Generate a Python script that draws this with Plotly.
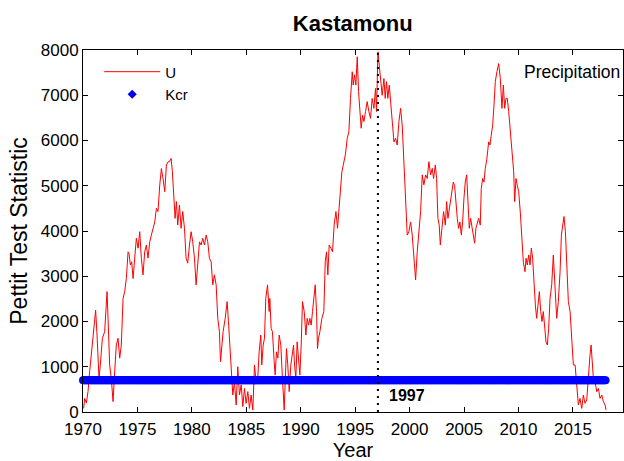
import numpy as np
import plotly.graph_objects as go

# Pettitt test statistic |U_t| for monthly precipitation at Kastamonu
years = [
    1970.06, 1970.15, 1970.31, 1970.46, 1970.61, 1970.77, 1970.92, 1971.07, 1971.16, 1971.29,
    1971.38, 1971.47, 1971.59, 1971.78, 1971.99, 1972.14, 1972.21, 1972.30, 1972.45, 1972.60,
    1972.76, 1972.91, 1973.06, 1973.22, 1973.37, 1973.52, 1973.68, 1973.83, 1973.98, 1974.14,
    1974.23, 1974.35, 1974.47, 1974.60, 1974.75, 1974.90, 1975.06, 1975.21, 1975.36, 1975.51,
    1975.67, 1975.82, 1975.97, 1976.13, 1976.28, 1976.43, 1976.59, 1976.74, 1976.89, 1977.05,
    1977.20, 1977.35, 1977.51, 1977.66, 1977.81, 1977.94, 1978.09, 1978.21, 1978.34, 1978.46,
    1978.58, 1978.70, 1978.86, 1979.01, 1979.16, 1979.32, 1979.47, 1979.62, 1979.78, 1979.93,
    1980.08, 1980.24, 1980.39, 1980.54, 1980.70, 1980.85, 1981.00, 1981.16, 1981.31, 1981.46,
    1981.61, 1981.77, 1981.92, 1982.07, 1982.23, 1982.38, 1982.53, 1982.63, 1982.75, 1982.87,
    1983.06, 1983.24, 1983.36, 1983.48, 1983.61, 1983.76, 1983.91, 1984.07, 1984.22, 1984.37,
    1984.53, 1984.68, 1984.83, 1984.98, 1985.14, 1985.29, 1985.44, 1985.60, 1985.75, 1985.90,
    1986.03, 1986.18, 1986.33, 1986.42, 1986.55, 1986.67, 1986.79, 1986.95, 1987.10, 1987.16,
    1987.28, 1987.40, 1987.56, 1987.65, 1987.77, 1987.90, 1988.02, 1988.17, 1988.32, 1988.48,
    1988.63, 1988.69, 1988.81, 1988.94, 1989.09, 1989.24, 1989.34, 1989.43, 1989.55, 1989.67,
    1989.80, 1989.92, 1990.04, 1990.16, 1990.32, 1990.47, 1990.59, 1990.71, 1990.84, 1990.96,
    1991.08, 1991.24, 1991.33, 1991.45, 1991.54, 1991.63, 1991.76, 1991.94, 1992.12, 1992.25,
    1992.37, 1992.49, 1992.61, 1992.77, 1992.92, 1993.07, 1993.23, 1993.38, 1993.53, 1993.69,
    1993.78, 1993.90, 1994.02, 1994.11, 1994.27, 1994.42, 1994.57, 1994.73, 1994.82, 1994.94,
    1995.06, 1995.19, 1995.31, 1995.43, 1995.55, 1995.68, 1995.80, 1995.95, 1996.10, 1996.26,
    1996.41, 1996.56, 1996.72, 1996.87, 1996.96, 1997.09, 1997.21, 1997.33, 1997.48, 1997.64,
    1997.76, 1997.88, 1998.00, 1998.13, 1998.25, 1998.40, 1998.56, 1998.71, 1998.86, 1999.02,
    1999.17, 1999.32, 1999.47, 1999.63, 1999.78, 1999.93, 2000.09, 2000.24, 2000.39, 2000.55,
    2000.70, 2000.85, 2001.01, 2001.16, 2001.31, 2001.47, 2001.62, 2001.77, 2001.93, 2002.08,
    2002.20, 2002.36, 2002.48, 2002.60, 2002.72, 2002.82, 2002.97, 2003.12, 2003.28, 2003.40,
    2003.52, 2003.64, 2003.77, 2003.89, 2004.01, 2004.13, 2004.26, 2004.38, 2004.50, 2004.62,
    2004.75, 2004.87, 2004.99, 2005.11, 2005.24, 2005.36, 2005.48, 2005.60, 2005.73, 2005.85,
    2005.97, 2006.09, 2006.22, 2006.34, 2006.49, 2006.58, 2006.71, 2006.83, 2006.95, 2007.10,
    2007.26, 2007.38, 2007.50, 2007.63, 2007.75, 2007.87, 2008.02, 2008.18, 2008.33, 2008.48,
    2008.61, 2008.73, 2008.85, 2008.97, 2009.10, 2009.25, 2009.40, 2009.56, 2009.65, 2009.77,
    2009.89, 2010.02, 2010.17, 2010.30, 2010.45, 2010.60, 2010.69, 2010.81, 2010.94, 2011.06,
    2011.18, 2011.30, 2011.43, 2011.55, 2011.67, 2011.79, 2011.92, 2012.04, 2012.16, 2012.28,
    2012.41, 2012.53, 2012.65, 2012.77, 2012.90, 2013.05, 2013.20, 2013.36, 2013.51, 2013.66,
    2013.82, 2013.94, 2014.06, 2014.18, 2014.31, 2014.43, 2014.58, 2014.74, 2014.89, 2015.04,
    2015.20, 2015.35, 2015.50, 2015.65, 2015.81, 2015.96, 2016.11, 2016.27, 2016.42, 2016.57,
    2016.67, 2016.76, 2016.88, 2017.03, 2017.19, 2017.34, 2017.49, 2017.65, 2017.80, 2017.95,
    2018.04,
]

u_values = [
    80, 300, 200, 450, 890, 1330, 1775, 2000, 2250, 1700,
    1190, 740, 1040, 1630, 1775, 2600, 2660, 2070, 1040, 740,
    230, 890, 1480, 1630, 1190, 1480, 2510, 2660, 2950, 3540,
    3500, 3250, 3320, 2950, 3470, 3840, 3620, 3985, 3400, 3030,
    3540, 3690, 3400, 3760, 3910, 4060, 4200, 4500, 4430, 5020,
    5380, 5160, 4870, 5460, 5530, 5530, 5605, 5310, 4650, 4280,
    4650, 4130, 4575, 4060, 4430, 4060, 3400, 3290, 3690, 3985,
    3760, 3400, 2810, 3400, 3760, 3690, 3840, 3690, 3910, 3760,
    3400, 3320, 2810, 3030, 2810, 2070, 1775, 1110, 1480, 1775,
    2070, 2440, 2000, 1480, 890, 375, 670, 155, 1000, 375,
    600, 120, 520, 190, 450, 80, 375, 45, 1040, 670,
    640, 1330, 1700, 1040, 1480, 1630, 2510, 2810, 2220, 2510,
    1850, 1775, 1110, 820, 1330, 1190, 1700, 1480, 740, 45,
    1040, 1400, 1040, 450, 1040, 1260, 1480, 1040, 740, 1550,
    1040, 820, 1480, 2440, 2220, 1700, 2070, 1920, 2070, 1920,
    2220, 2660, 2810, 2220, 1400, 1630, 1775, 2070, 2220, 3320,
    3540, 3030, 3690, 3620, 3540, 4130, 4430, 4060, 4575, 5020,
    5310, 5450, 5560, 5700, 6050, 6190, 6930, 7520, 7225, 7450,
    7225, 7850, 7080, 6640, 6270, 6560, 6420, 6640, 6860, 6640,
    6490, 6930, 6710, 7150, 6640, 7960, 7670, 7370, 7000, 7370,
    6930, 7300, 6930, 7225, 6860, 6420, 5970, 6050, 5900, 6420,
    6710, 6340, 5605, 4575, 3910, 3985, 4200, 3910, 3320, 2920,
    3540, 3910, 4430, 5240, 5020, 5240, 5160, 5530, 5240, 5385,
    5160, 5460, 5160, 4280, 4130, 3690, 4060, 4430, 4130, 4650,
    4280, 4500, 4720, 4870, 5080, 5010, 4575, 4280, 4060, 4200,
    3910, 4200, 4720, 5080, 5240, 4500, 4060, 4280, 4060, 3910,
    3730, 4060, 4200, 4280, 4130, 4940, 5160, 5080, 5380, 5605,
    5970, 5900, 6120, 6340, 6780, 7300, 7520, 7700, 7370, 6710,
    7225, 6710, 6930, 6930, 6640, 6190, 5750, 5310, 4650, 5160,
    5010, 4870, 4400, 3800, 3300, 3100, 3400, 3250, 3470, 3250,
    3620, 3400, 2810, 2360, 2070, 2360, 2660, 2220, 2000, 2220,
    1850, 1550, 1480, 1850, 2510, 2810, 3470, 2590, 2070, 2440,
    3100, 3910, 4130, 4320, 3985, 3400, 2440, 2220, 1700, 1040,
    1040, 670, 155, 300, 80, 375, 190, 265, 890, 1260,
    1480, 1040, 740, 670, 450, 520, 300, 375, 230, 155,
    45,
]

# Critical value of the test statistic and detected change point
k_critical = 700
change_year = 1997.09
kcr_months = np.arange(1970.0, 2018.0 + 1e-9, 1.0 / 12.0)

x_ticks = [1970, 1975, 1980, 1985, 1990, 1995, 2000, 2005, 2010, 2015]
y_ticks = [0, 1000, 2000, 3000, 4000, 5000, 6000, 7000, 8000]

font_family = "Arial, Liberation Sans, sans-serif"

fig = go.Figure()

fig.add_trace(go.Scatter(
    x=years, y=u_values, name="U", mode="lines",
    line=dict(color="#ff0000", width=1),
))

# Threshold drawn as a dense row of dots, one per month
fig.add_trace(go.Scatter(
    x=kcr_months, y=[k_critical] * len(kcr_months), name="Kcr", mode="markers",
    marker=dict(color="#0000ff", size=8, symbol="circle", line=dict(width=0)),
    cliponaxis=False, showlegend=False, legendgroup="kcr",
))
# Legend entry for the threshold with a small marker
fig.add_trace(go.Scatter(
    x=[None], y=[None], name="Kcr", mode="markers",
    marker=dict(color="#0000ff", size=7, symbol="diamond", line=dict(width=0)),
    legendgroup="kcr",
))

# Vertical dotted marker at the change point
fig.add_shape(
    type="line", xref="x", yref="y",
    x0=change_year, x1=change_year, y0=0, y1=8000,
    line=dict(color="black", width=2, dash="2px,5px"),
)

fig.add_annotation(
    x=change_year, y=k_critical, xref="x", yref="y",
    text="<b>%d</b>" % int(change_year), showarrow=False,
    xanchor="left", yanchor="middle", xshift=9, yshift=-15,
    font=dict(family=font_family, size=16, color="black"),
)

fig.add_annotation(
    x=1, y=0.939, xref="paper", yref="paper",
    text="Precipitation", showarrow=False,
    xanchor="right", yanchor="middle", xshift=-1,
    font=dict(family=font_family, size=17.5, color="black"),
)

axis_common = dict(
    showline=True, linecolor="black", linewidth=1, mirror="ticks",
    ticks="inside", ticklen=5, tickcolor="black", tickwidth=1,
    showgrid=False, zeroline=False,
    tickfont=dict(family=font_family, size=17, color="black"),
)

fig.update_layout(
    width=624, height=461,
    margin=dict(l=83, r=1, t=50, b=49),
    paper_bgcolor="white", plot_bgcolor="white",
    title=dict(
        text="<b>Kastamonu</b>", x=0.5652, xanchor="center", y=0.95, yanchor="middle",
        font=dict(family=font_family, size=22, color="black"),
    ),
    xaxis=dict(
        range=[1970, 2019.6], tickvals=x_ticks, ticklabelstandoff=2,
        title=dict(text="Year", font=dict(family=font_family, size=20, color="black"), standoff=2),
        **axis_common,
    ),
    yaxis=dict(
        range=[0, 8000], tickvals=y_ticks,
        title=dict(text="Pettit Test Statistic", font=dict(family=font_family, size=23, color="black"), standoff=6),
        **axis_common,
    ),
    showlegend=True,
    legend=dict(
        x=0.03, y=0.985, xanchor="left", yanchor="top",
        bgcolor="rgba(0,0,0,0)", borderwidth=0,
        font=dict(family=font_family, size=15, color="black"),
        itemwidth=56, tracegroupgap=0,
    ),
)

fig.write_html("out.html")
